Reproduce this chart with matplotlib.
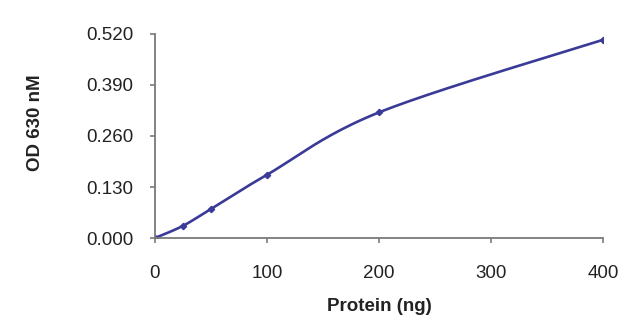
import numpy as np
import matplotlib.pyplot as plt

plt.rcParams['font.family'] = ['Liberation Sans', 'DejaVu Sans']

# standard curve readings
protein_ng = [0, 25, 50, 100, 200, 400]
od_630 = [0.000, 0.031, 0.074, 0.161, 0.320, 0.505]
x_ticks = [0, 100, 200, 300, 400]
y_ticks = [0.000, 0.130, 0.260, 0.390, 0.520]


def smooth_curve(x, y, n=40):
    # Catmull-Rom style cubic Bezier segments through every point
    x = np.asarray(x, float)
    y = np.asarray(y, float)
    pts = np.column_stack([x, y])
    out = []
    for i in range(len(pts) - 1):
        p0 = pts[i - 1] if i > 0 else pts[i]
        p1 = pts[i]
        p2 = pts[i + 1]
        p3 = pts[i + 2] if i + 2 < len(pts) else pts[i + 1]
        c1 = p1 + (p2 - p0) / 6
        c2 = p2 - (p3 - p1) / 6
        t = np.linspace(0, 1, n)[:, None]
        seg = ((1 - t) ** 3) * p1 + 3 * ((1 - t) ** 2) * t * c1 \
            + 3 * (1 - t) * t ** 2 * c2 + t ** 3 * p2
        out.append(seg if i == 0 else seg[1:])
    out = np.vstack(out)
    return out[:, 0], out[:, 1]


fig = plt.figure(figsize=(6.4, 3.23), dpi=100)
ax = fig.add_axes([0.242, 0.263, 0.700, 0.632])

line_col = '#3a3a98'
sx, sy = smooth_curve(protein_ng, od_630)
ax.plot(sx, sy, color=line_col, lw=1.9, solid_capstyle='round')
ax.plot(protein_ng, od_630, 'D', color=line_col, ms=3.2, lw=0)

ax.set_xlim(0, 400)
ax.set_ylim(0, 0.52)
ax.set_xticks(x_ticks)
ax.set_yticks(y_ticks)
ax.set_yticklabels([f'{v:.3f}' for v in y_ticks])

for side in ['top', 'right']:
    ax.spines[side].set_visible(False)
for side in ['left', 'bottom']:
    ax.spines[side].set_color('#7a7a7a')
    ax.spines[side].set_linewidth(1.3)
ax.tick_params(direction='out', length=3.5, width=1.2, color='#7a7a7a',
               labelsize=13.5, labelcolor='#222222')
ax.tick_params(axis='y', pad=12)
ax.tick_params(axis='x', pad=16)

ax.set_xlabel('Protein (ng)', fontsize=13.5, fontweight='bold', color='#222222')
ax.set_ylabel('OD 630 nM', fontsize=13.5, fontweight='bold', color='#222222')
ax.xaxis.set_label_coords(0.5, -0.296)
ax.yaxis.set_label_coords(-0.248, 0.566)

ax.patch.set_visible(False)
fig.savefig('out.png', dpi=100, facecolor='white')
